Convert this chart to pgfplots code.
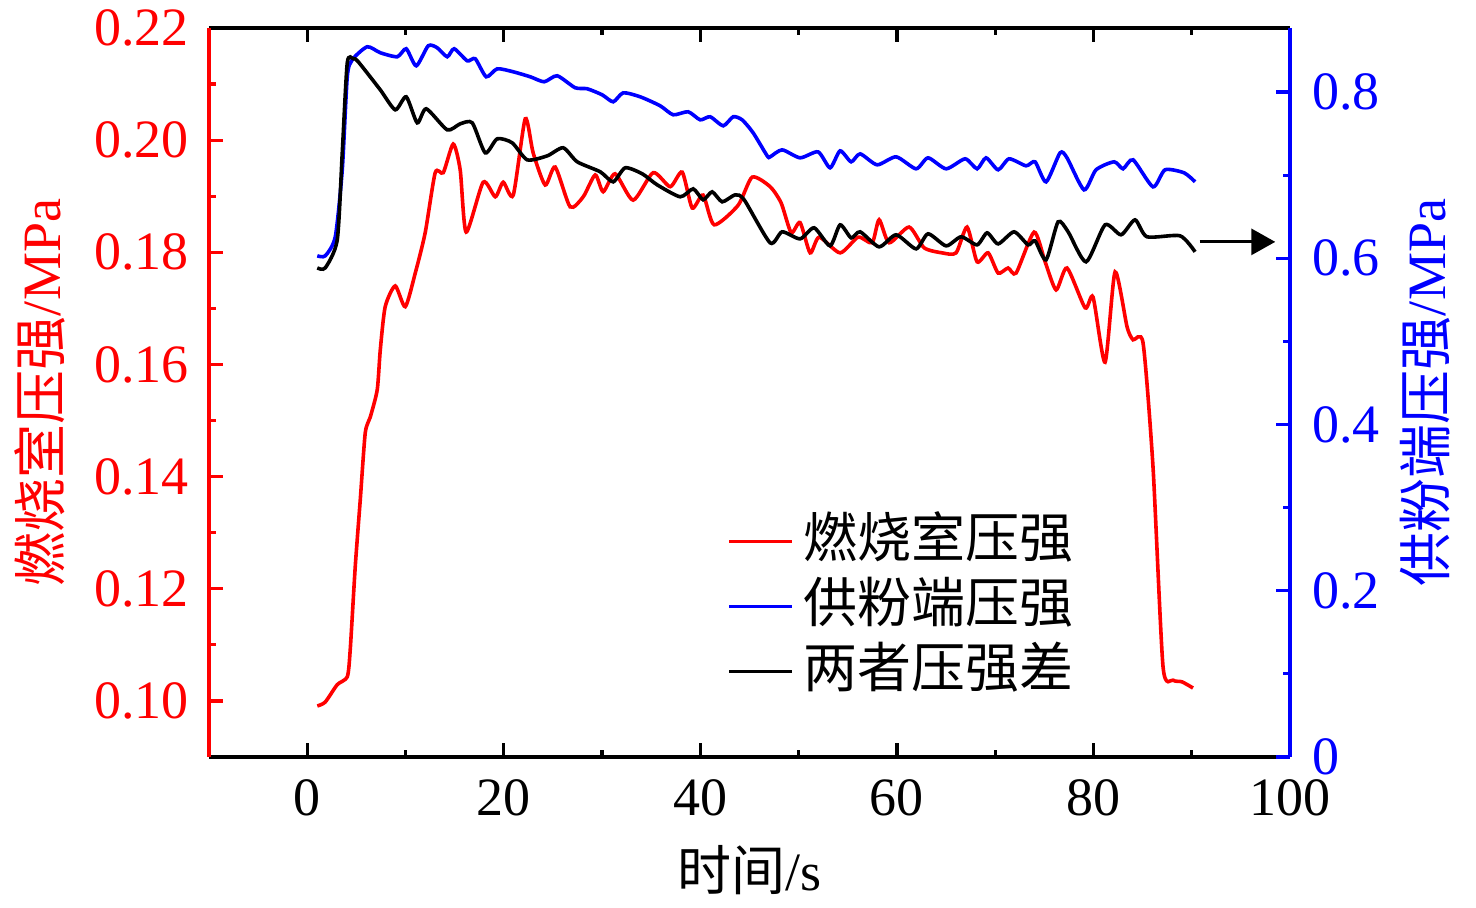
\documentclass[border=0pt]{standalone}
\usepackage{fontspec}
\setmainfont{Liberation Serif}
\newfontfamily\cjk{Noto Sans CJK SC}
\usepackage{pgfplots}
\pgfplotsset{compat=1.18}
\usetikzlibrary{arrows.meta}
\begin{document}
\fontsize{27}{32}\selectfont
\begin{tikzpicture}
\useasboundingbox (-104.5pt,-75.5pt) rectangle (633.5pt,378.5pt);
\pgfplotsset{
  every axis/.append style={
    scale only axis, width=540.5pt, height=364.5pt,
    at={(0pt,0pt)}, anchor=south west,
    xmin=-10, xmax=100,
    tick align=inside,
    major tick length=7pt, minor tick length=3.5pt,
    every tick/.style={line width=1.6pt},
    every minor tick/.style={line width=1.6pt},
    tick label style={font=\fontsize{27}{32}\selectfont, inner sep=0pt},
    label style={font=\fontsize{27}{32}\selectfont},
    /pgf/number format/assume math mode=true,
  }
}
\begin{axis}[
  axis x line*=box, axis y line*=left,
  x axis line style={line width=2pt, black},
  y axis line style={line width=2pt, red},
  xtick={0,20,40,60,80,100}, minor x tick num=1,
  xtick pos=both,
  xticklabel style={yshift=-11pt},
  ymin=0.09, ymax=0.22,
  ytick={0.10,0.12,0.14,0.16,0.18,0.20,0.22}, minor y tick num=1,
  y tick style={red}, yticklabel style={red, xshift=-10pt, /pgf/number format/.cd, fixed, fixed zerofill, precision=2},
  xlabel={{\cjk 时间}/s},
  xlabel style={at={(axis description cs:0.5,-0.155)}, anchor=center},
  ylabel={{\cjk 燃烧室压强}/MPa},
  ylabel style={at={(axis description cs:-0.1563,0.5)}, anchor=center, red},
]
\addplot[red, line width=1.8pt, smooth, tension=0.4] coordinates {
(1.02,0.0991)(1.83,0.0998)(3.05,0.1029)(4.07,0.1043)(4.37,0.1091)(4.88,0.1239)(5.39,0.1358)(5.90,0.1478)(6.41,0.1506)(7.12,0.1555)(7.43,0.1626)(7.93,0.1703)(8.95,0.1740)(9.97,0.1703)(10.99,0.1763)(12.00,0.1835)(13.02,0.1942)(13.84,0.1942)(14.85,0.1993)(15.56,0.1947)(16.17,0.1836)(17.90,0.1925)(19.13,0.1899)(19.94,0.1925)(20.96,0.1902)(22.18,0.2038)(22.99,0.1977)(24.21,0.1920)(25.23,0.1952)(26.75,0.1881)(28.08,0.1899)(29.30,0.1938)(30.11,0.1908)(31.33,0.1940)(33.16,0.1893)(35.20,0.1942)(36.93,0.1917)(38.15,0.1943)(39.17,0.1879)(40.28,0.1902)(41.40,0.1849)(43.85,0.1884)(45.27,0.1934)(47.10,0.1917)(48.22,0.1888)(49.24,0.1835)(50.15,0.1853)(51.17,0.1799)(52.09,0.1827)(54.22,0.1799)(56.05,0.1827)(57.48,0.1817)(58.19,0.1858)(59.21,0.1817)(61.24,0.1845)(62.77,0.1808)(64.60,0.1799)(66.02,0.1799)(67.14,0.1845)(68.16,0.1783)(69.28,0.1799)(70.30,0.1763)(71.31,0.1772)(72.13,0.1763)(73.96,0.1836)(75.08,0.1783)(76.20,0.1733)(77.31,0.1772)(79.15,0.1701)(79.96,0.1720)(81.18,0.1604)(82.20,0.1765)(83.42,0.1667)(84.03,0.1644)(85.05,0.1638)(86.06,0.1417)(87.08,0.1061)(88.10,0.1037)(89.01,0.1034)(90.13,0.1023)
};
\end{axis}
\begin{axis}[
  axis x line=none, axis y line*=right,
  y axis line style={line width=2pt, blue},
  ymin=0, ymax=0.877,
  ytick={0,0.2,0.4,0.6,0.8}, minor y tick num=1,
  y tick style={blue}, yticklabel style={blue, xshift=11pt},
  ylabel={{\cjk 供粉端压强}/MPa},
  ylabel style={at={(axis description cs:1.125,0.5)}, anchor=center, blue},
  legend style={at={(rel axis cs:0.479,0.340)}, anchor=north west, draw=none, fill=none,
    inner sep=0pt, row sep=0.5pt,
    nodes={inner sep=2pt, text height=22pt, text depth=6pt, font=\fontsize{27}{32}\selectfont}},
  legend cell align=left,
  legend image code/.code={\draw[#1] (0pt,0pt) -- (31.5pt,0pt);},
]
\addlegendimage{red, line width=1.8pt}
\addlegendentry{\hspace{3pt}\cjk 燃烧室压强}
\addplot[blue, line width=1.8pt, smooth, tension=0.4] coordinates {
(1.02,0.6029)(1.83,0.6029)(2.85,0.6258)(3.56,0.7064)(4.07,0.8183)(4.58,0.8388)(6.10,0.8544)(7.43,0.8472)(9.16,0.8424)(10.07,0.8520)(11.09,0.8315)(12.31,0.8556)(13.22,0.8532)(14.24,0.8424)(14.95,0.8520)(16.28,0.8375)(17.09,0.8400)(18.21,0.8183)(19.33,0.8279)(20.96,0.8243)(22.69,0.8183)(24.11,0.8123)(25.43,0.8195)(27.26,0.8051)(28.48,0.8039)(30.01,0.7966)(31.13,0.7882)(32.15,0.7990)(33.88,0.7942)(35.91,0.7834)(37.23,0.7726)(38.76,0.7762)(39.98,0.7665)(41.00,0.7702)(42.32,0.7593)(43.34,0.7702)(44.25,0.7665)(45.37,0.7509)(46.80,0.7232)(47.10,0.7220)(48.32,0.7304)(50.15,0.7208)(51.98,0.7280)(53.20,0.7088)(54.22,0.7292)(55.34,0.7160)(56.26,0.7256)(57.99,0.7124)(59.92,0.7220)(61.95,0.7076)(63.17,0.7208)(65.01,0.7076)(66.94,0.7196)(68.16,0.7076)(69.07,0.7208)(70.30,0.7064)(71.41,0.7196)(73.14,0.7112)(74.06,0.7160)(75.18,0.6919)(76.60,0.7268)(77.31,0.7208)(79.04,0.6823)(80.26,0.7064)(82.10,0.7160)(83.01,0.7076)(84.03,0.7184)(86.06,0.6859)(87.28,0.7064)(89.22,0.7028)(90.34,0.6919)
};
\addlegendentry{\hspace{3pt}\cjk 供粉端压强}
\addplot[black, line width=1.8pt, smooth, tension=0.4] coordinates {
(1.02,0.5884)(1.83,0.5884)(3.05,0.6221)(3.56,0.7268)(4.07,0.8351)(4.68,0.8400)(5.19,0.8363)(7.43,0.8026)(8.95,0.7786)(10.07,0.7942)(11.19,0.7629)(12.11,0.7798)(14.24,0.7545)(15.56,0.7617)(16.79,0.7629)(18.11,0.7268)(19.33,0.7437)(20.85,0.7389)(22.38,0.7184)(24.42,0.7232)(26.04,0.7329)(27.47,0.7160)(29.81,0.7040)(31.13,0.6919)(32.35,0.7088)(34.08,0.7016)(35.61,0.6883)(37.95,0.6739)(39.27,0.6835)(40.28,0.6703)(41.20,0.6799)(42.22,0.6679)(43.54,0.6763)(44.46,0.6703)(47.10,0.6185)(48.32,0.6318)(50.15,0.6233)(51.58,0.6366)(53.20,0.6149)(54.22,0.6402)(55.34,0.6245)(56.26,0.6318)(58.19,0.6137)(59.92,0.6282)(61.95,0.6113)(63.17,0.6294)(65.01,0.6149)(66.53,0.6258)(68.16,0.6161)(69.18,0.6306)(70.30,0.6173)(71.92,0.6318)(73.35,0.6161)(74.06,0.6209)(75.18,0.5981)(76.40,0.6438)(77.42,0.6318)(79.25,0.5957)(81.18,0.6402)(82.81,0.6282)(84.23,0.6462)(85.45,0.6258)(88.81,0.6270)(90.34,0.6077)
};
\addlegendentry{\hspace{3pt}\cjk 两者压强差}
\draw[black, line width=1.6pt, -{Triangle[length=12pt,width=13pt]}] (axis cs:90.8,0.6197) -- (axis cs:98.5,0.6197);
\end{axis}
\end{tikzpicture}
\end{document}
